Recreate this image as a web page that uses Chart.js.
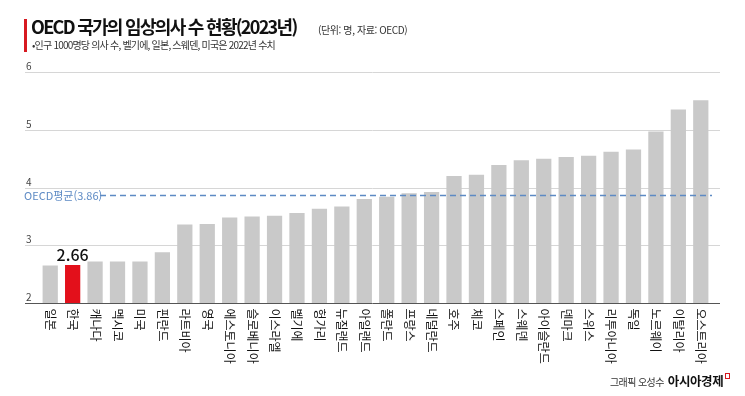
<!DOCTYPE html>
<html lang="ko">
<head>
<meta charset="utf-8">
<script src="https://cdn.jsdelivr.net/npm/chart.js@4.4.1/dist/chart.umd.min.js"></script>
<style>
  html, body { margin: 0; padding: 0; background: #fff; }
  body { width: 745px; height: 396px; position: relative; overflow: hidden;
         font-family: "Noto Sans CJK KR", "Noto Sans", sans-serif; }
  #wrap { position: absolute; left: 0; top: 0; width: 745px; height: 396px; }
  .redbar { position: absolute; left: 24px; top: 19px; width: 3px; height: 33px; background: #d71920; }
  .title { position: absolute; left: 31px; top: 13px; font-size: 18px; font-weight: 700;
           letter-spacing: -1.7px; color: #111; white-space: nowrap; }
  .unit { position: absolute; left: 318px; top: 22px; font-size: 10px; color: #333;
          letter-spacing: -0.4px; white-space: nowrap; }
  .sub { position: absolute; left: 32px; top: 37px; font-size: 10px; color: #333;
         letter-spacing: -0.8px; white-space: nowrap; }
  .credit { position: absolute; left: 610px; top: 371px; font-size: 10px; color: #333;
            letter-spacing: -0.6px; white-space: nowrap; }
  .brand { font-size: 12.5px; font-weight: 700; color: #111; margin-left: 4px; letter-spacing: -0.4px; }
  .mark { display: inline-block; width: 3px; height: 4px; border: 1.5px solid #d71920;
          margin-left: 2px; vertical-align: 7px; }
</style>
</head>
<body>
<div id="wrap"><canvas id="chart" width="745" height="396"></canvas></div>
<div class="redbar"></div>
<div class="title">OECD 국가의 임상의사 수 현황(2023년)</div>
<div class="unit">(단위: 명, 자료: OECD)</div>
<div class="sub">•인구 1000명당 의사 수, 벨기에, 일본, 스웨덴, 미국은 2022년 수치</div>
<div class="credit">그래픽 오성수<span class="brand">아시아경제</span><span class="mark"></span></div>

<script>
// 데이터
const countries = ['일본', '한국', '캐나다', '멕시코', '미국', '핀란드', '라트비아', '영국',
    '에스토니아', '슬로베니아', '이스라엘', '벨기에', '헝가리', '뉴질랜드', '아일랜드',
    '폴란드', '프랑스', '네덜란드', '호주', '체코', '스페인', '스웨덴', '아이슬란드',
    '덴마크', '스위스', '리투아니아', '독일', '노르웨이', '이탈리아', '오스트리아'];
const doctors = [2.65, 2.66, 2.72, 2.72, 2.72, 2.88, 3.36, 3.37, 3.48, 3.50, 3.51, 3.56,
    3.63, 3.67, 3.80, 3.84, 3.90, 3.92, 4.20, 4.22, 4.39, 4.47, 4.50, 4.53, 4.55, 4.62,
    4.66, 4.97, 5.35, 5.51];
const yTicks = [2, 3, 4, 5, 6];
const oecdAvg = 3.86;
const highlight = '한국';

const barColors = countries.map(c => c === highlight ? '#e3101b' : '#c9c9c9');

// 격자선, 축, 라벨 직접 그리기
const decorPlugin = {
    id: 'decor',
    beforeDatasetsDraw(chart) {
        const { ctx } = chart;
        const y = chart.scales.y;
        ctx.save();
        yTicks.forEach(t => {
            const py = Math.round(y.getPixelForValue(t)) + 0.5;
            if (t !== 2) {
                ctx.strokeStyle = '#d6d6d6';
                ctx.lineWidth = 1;
                ctx.beginPath();
                ctx.moveTo(25, py);
                ctx.lineTo(720, py);
                ctx.stroke();
            }
            ctx.fillStyle = '#444';
            ctx.font = '10px "Noto Sans CJK KR", sans-serif';
            ctx.textAlign = 'left';
            ctx.textBaseline = 'alphabetic';
            ctx.fillText(String(t), 26, py - 3);
        });
        ctx.restore();
    },
    afterDatasetsDraw(chart) {
        const { ctx } = chart;
        const x = chart.scales.x;
        const y = chart.scales.y;
        ctx.save();

        // 기준선
        const by = Math.round(y.getPixelForValue(2)) + 0.5;
        ctx.strokeStyle = '#555';
        ctx.lineWidth = 1;
        ctx.beginPath();
        ctx.moveTo(25, by);
        ctx.lineTo(720, by);
        ctx.stroke();

        // OECD 평균선
        const ay = y.getPixelForValue(oecdAvg);
        ctx.strokeStyle = '#5d8ac4';
        ctx.lineWidth = 1.5;
        ctx.setLineDash([6, 4]);
        ctx.beginPath();
        ctx.moveTo(100, ay);
        ctx.lineTo(712, ay);
        ctx.stroke();
        ctx.setLineDash([]);
        ctx.fillStyle = '#5d8ac4';
        ctx.font = '11px "Noto Sans CJK KR", sans-serif';
        ctx.textAlign = 'left';
        ctx.textBaseline = 'middle';
        ctx.fillText('OECD평균(3.86)', 24, ay);

        // 한국 값
        const idx = countries.indexOf(highlight);
        const bar = chart.getDatasetMeta(0).data[idx];
        ctx.fillStyle = '#111';
        ctx.font = '500 16px "Noto Sans CJK KR", sans-serif';
        ctx.textAlign = 'center';
        ctx.textBaseline = 'alphabetic';
        ctx.fillText(doctors[idx].toFixed(2), bar.x, bar.y - 4);

        // 세로 국가명
        ctx.font = '12px "Noto Sans CJK KR", sans-serif';
        ctx.fillStyle = '#111';
        countries.forEach((c, i) => {
            const px = x.getPixelForValue(i);
            ctx.save();
            ctx.translate(px, by + 5);
            ctx.rotate(Math.PI / 2);
            ctx.textAlign = 'left';
            ctx.textBaseline = 'middle';
            ctx.fillText(c, 0, 0);
            ctx.restore();
        });
        ctx.restore();
    }
};

const chart = new Chart(document.getElementById('chart'), {
    type: 'bar',
    data: {
        labels: countries,
        datasets: [{
            data: doctors,
            backgroundColor: barColors,
            borderWidth: 0,
            barPercentage: 0.68,
            categoryPercentage: 1.0,
        }],
    },
    options: {
        responsive: false,
        animation: false,
        layout: { padding: { left: 39, right: 33, top: 72, bottom: 93 } },
        plugins: {
            legend: { display: false },
            tooltip: { enabled: false },
        },
        scales: {
            x: { display: false },
            y: { display: false, min: 2, max: 6 },
        },
    },
    plugins: [decorPlugin],
});
</script>
</body>
</html>
